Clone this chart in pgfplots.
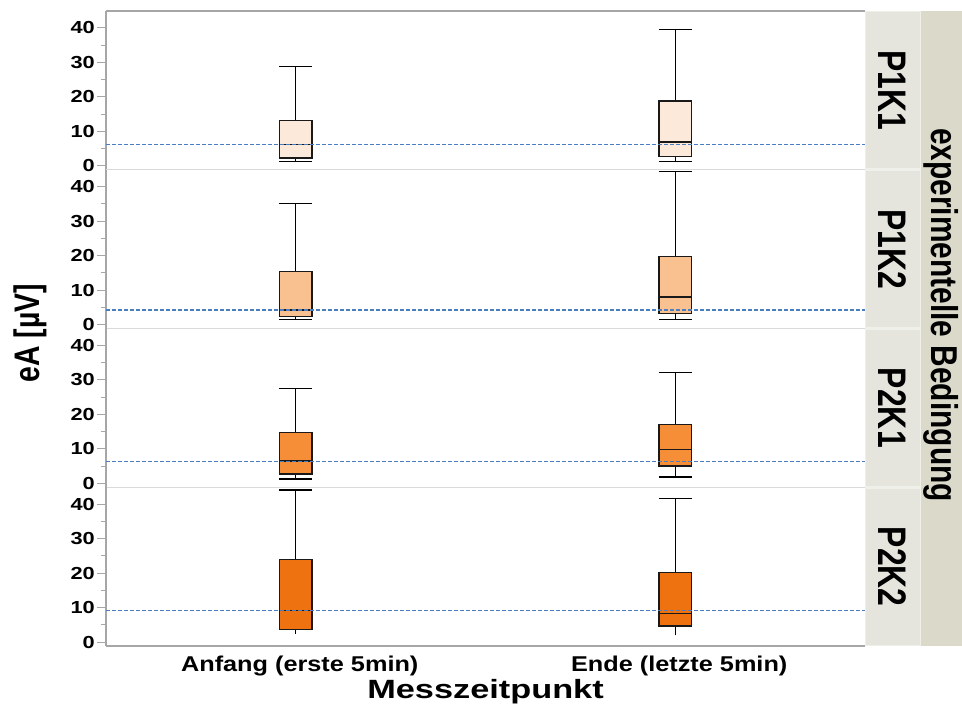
\documentclass[border=0pt]{standalone}
\usepackage{fontspec}
\setmainfont{Liberation Sans}
\usepackage{graphicx}
\usepackage{pgfplots}
\pgfplotsset{compat=1.18}

\definecolor{axgray}{HTML}{A6A6A6}
\definecolor{sepgray}{HTML}{DADADA}
\definecolor{meanblue}{HTML}{4A7EC0}
\definecolor{cA}{HTML}{FCE9DA}
\definecolor{cB}{HTML}{F9C18F}
\definecolor{cC}{HTML}{F68E37}
\definecolor{cD}{HTML}{EE7210}
\definecolor{stripin}{HTML}{E5E5DD}
\definecolor{stripgap}{HTML}{F0F0EB}
\definecolor{stripout}{HTML}{DBD9CA}

\newcommand{\hs}[1]{\scalebox{1.25}[1]{#1}}
\newcommand{\vs}[1]{\scalebox{1}[1.25]{#1}}

\pgfplotsset{
  panel/.style={
    at={(106bp,#1)}, anchor=south west,
    width=759bp, height=158.75bp, scale only axis,
    xmin=-0.5, xmax=1.5, ymin=-1.15, ymax=44.9,
    axis line style={draw=none},
    clip=false,
    unbounded coords=jump,
    ytick={0,10,20,30,40},
    yticklabels={\hs{0},\hs{10},\hs{20},\hs{30},\hs{40}},
    minor ytick={5,15,25,35},
    ytick pos=left,
    tick align=outside,
    major tick length=9bp, minor tick length=5.5bp,
    tick style={axgray, line width=0.9bp},
    xtick style={draw=none},
    xtick=\empty,
    yticklabel style={font=\fontsize{17.5}{18}\selectfont\bfseries, anchor=east, inner sep=0pt, xshift=-2bp},
  },
  wh/.style={black, line width=1.2bp, mark=none},
  bxs/.style={draw=black!90, line width=1.5bp, mark=none},
  meanline/.style={meanblue, line width=1.25bp, dash pattern=on 4bp off 2bp, mark=none},
}

% box plot from its five numbers:
% #1 left, #2 centre, #3 right, #4 lower whisker, #5 Q1, #6 median, #7 Q3, #8 upper whisker, #9 fill
\newcommand{\bplot}[9]{%
  \addplot[wh] coordinates {(#2,#4) (#2,#5) (nan,nan) (#2,#7) (#2,#8)};
  \addplot[wh] coordinates {(#1,#4) (#3,#4) (nan,nan) (#1,#8) (#3,#8)};
  \addplot[bxs, fill=#9] coordinates {(#1,#5) (#3,#5) (#3,#7) (#1,#7)} -- cycle;
  \addplot[bxs] coordinates {(#1,#6) (#3,#6)};
}
% same, lower whisker without a cap
\newcommand{\bplotnc}[9]{%
  \addplot[wh] coordinates {(#2,#4) (#2,#5) (nan,nan) (#2,#7) (#2,#8)};
  \addplot[wh] coordinates {(#1,#8) (#3,#8)};
  \addplot[bxs, fill=#9] coordinates {(#1,#5) (#3,#5) (#3,#7) (#1,#7)} -- cycle;
  \addplot[bxs] coordinates {(#1,#6) (#3,#6)};
}

% strip with the condition name on the right of a panel
\newcommand{\panelstrip}[1]{%
  \fill[stripgap] (rel axis cs:1,0) rectangle ([xshift=56bp]rel axis cs:1,1);
  \fill[stripin] ([xshift=1bp,yshift=1.5bp]rel axis cs:1,0) rectangle ([xshift=55bp,yshift=-1.5bp]rel axis cs:1,1);
  \node[rotate=-90, font=\fontsize{32}{32}\selectfont\bfseries] at ([xshift=27.5bp]rel axis cs:1,0.5) {\vs{#1}};
}

\begin{document}
\begin{tikzpicture}
\path[use as bounding box] (0,0) rectangle (962bp,711bp);

% outer strip for the condition factor
\fill[stripout] (921bp,65bp) rectangle (962bp,700bp);
\node[rotate=-90, font=\fontsize{30}{30}\selectfont\bfseries] at (941.5bp,396bp) {\vs{experimentelle Bedingung}};

% ---------- P1K1 ----------
\begin{axis}[panel=541.25bp]
\draw[axgray, line width=1.2bp] (rel axis cs:0,0) -- (rel axis cs:0,1);
\draw[axgray, line width=1.2bp] (rel axis cs:0,1) -- (rel axis cs:1,1);
\draw[sepgray, line width=1.2bp] (rel axis cs:0,0) -- (rel axis cs:1,0);
\bplot{-0.043}{0}{0.043}{1.25}{2.3}{6.1}{13.2}{28.7}{cA}
\bplot{0.957}{1}{1.043}{1.25}{2.7}{6.9}{18.8}{39.5}{cA}
\addplot[meanline] coordinates {(-0.5,6.1) (1.5,6.1)};
\panelstrip{P1K1}
\end{axis}

% ---------- P1K2 ----------
\begin{axis}[panel=382.5bp]
\draw[axgray, line width=1.2bp] (rel axis cs:0,0) -- (rel axis cs:0,1);
\draw[sepgray, line width=1.2bp] (rel axis cs:0,0) -- (rel axis cs:1,0);
\bplot{-0.043}{0}{0.043}{1.35}{2.3}{4.2}{15.4}{35.0}{cB}
\bplot{0.957}{1}{1.043}{1.35}{3.2}{8.0}{19.7}{44.3}{cB}
\addplot[meanline] coordinates {(-0.5,4.25) (1.5,4.25)};
\panelstrip{P1K2}
\end{axis}

% ---------- P2K1 ----------
\begin{axis}[panel=223.75bp]
\draw[axgray, line width=1.2bp] (rel axis cs:0,0) -- (rel axis cs:0,1);
\draw[sepgray, line width=1.2bp] (rel axis cs:0,0) -- (rel axis cs:1,0);
\bplot{-0.043}{0}{0.043}{1.25}{2.7}{6.4}{14.8}{27.5}{cC}
\bplot{0.957}{1}{1.043}{1.8}{5.0}{9.8}{17.1}{32.2}{cC}
\addplot[meanline] coordinates {(-0.5,6.4) (1.5,6.4)};
\panelstrip{P2K1}
\end{axis}

% ---------- P2K2 ----------
\begin{axis}[panel=65bp,
  xtick={0,1},
  xticklabels={\scalebox{1.18}[1]{Anfang (erste 5min)},\scalebox{1.18}[1]{Ende (letzte 5min)}},
  xticklabel style={font=\fontsize{21.5}{22}\selectfont\bfseries, anchor=base, yshift=-16.8bp, xshift=4bp},
  xlabel={\scalebox{1.3}[1]{Messzeitpunkt}},
  xlabel style={font=\fontsize{26.5}{27}\selectfont\bfseries, at={(axis description cs:0.5,-0.328)}, anchor=base},
]
\draw[axgray, line width=1.2bp] (rel axis cs:0,0) -- (rel axis cs:0,1);
\draw[axgray, line width=1.2bp] (rel axis cs:0,0) -- (rel axis cs:1,0);
\bplotnc{-0.043}{0}{0.043}{2.4}{3.7}{9.2}{23.9}{44.1}{cD}
\bplotnc{0.957}{1}{1.043}{1.9}{4.6}{8.3}{20.1}{41.6}{cD}
\addplot[meanline] coordinates {(-0.5,9.2) (1.5,9.2)};
\panelstrip{P2K2}
\end{axis}

% common y label
\node[rotate=90, font=\fontsize{28.5}{29}\selectfont\bfseries] at (30bp,378bp) {\vs{eA [µV]}};
\end{tikzpicture}
\end{document}
